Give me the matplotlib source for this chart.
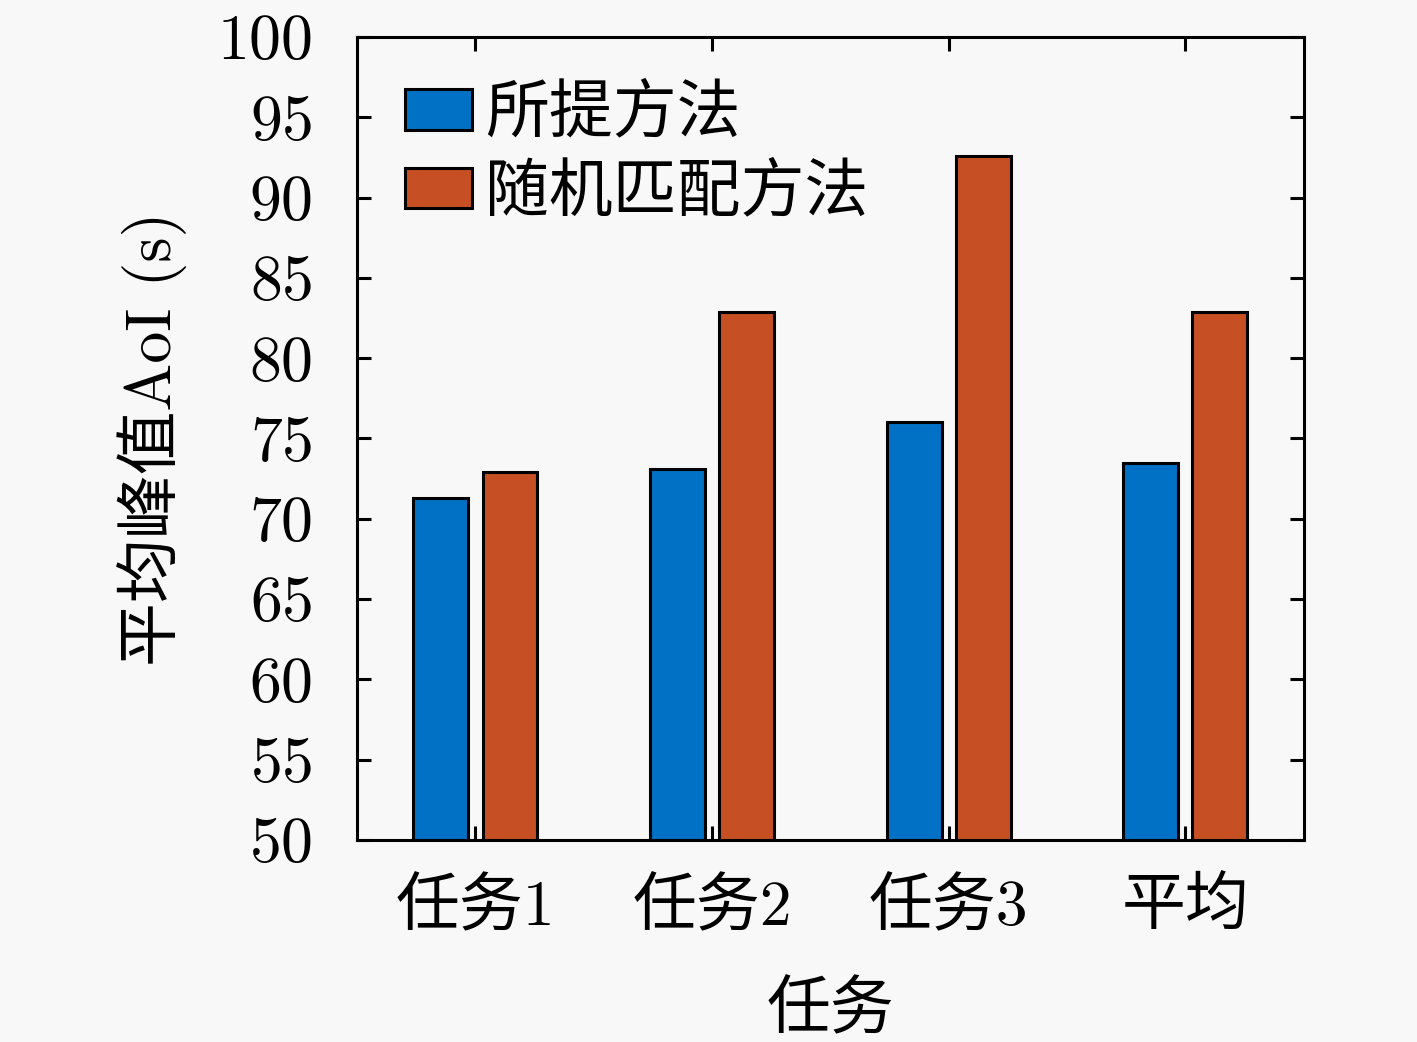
import numpy as np
import matplotlib
matplotlib.use('Agg')
import matplotlib.pyplot as plt

# Datos
tareas     = ['任务1', '任务2', '任务3', '平均']
propuesto  = [71.3, 73.1, 76.0, 73.5]
aleatorio  = [72.9, 82.9, 92.6, 82.9]
series     = ['所提方法', '随机匹配方法']
yticks     = [50, 55, 60, 65, 70, 75, 80, 85, 90, 95, 100]

FUENTE = ['cmr10', 'Noto Sans CJK SC']
plt.rcParams['font.family'] = FUENTE
plt.rcParams['axes.formatter.use_mathtext'] = True
FS = 46
FONDO = '#f8f8f8'

fig = plt.figure(figsize=(14.17, 10.42), dpi=100, facecolor=FONDO)
ax = fig.add_axes((0.252, 0.194, 0.668, 0.7705), facecolor=FONDO)

x = np.arange(1, len(tareas)+1)
w = 0.232
d = 0.146
ax.bar(x-d, propuesto, w, color='#0071c5', edgecolor='k', linewidth=2.2, label=series[0])
ax.bar(x+d, aleatorio, w, color='#c65023', edgecolor='k', linewidth=2.2, label=series[1])

ax.set_xlim(0.5, 4.5)
ax.set_ylim(50, 100)
ax.set_yticks(yticks)
ax.set_xticks(x)
ax.set_xticklabels(tareas)
ax.tick_params(direction='in', length=10, width=2.2, labelsize=FS, top=True, right=True)
ax.tick_params(axis='y', pad=32)
ax.tick_params(axis='x', pad=28)
for s in ax.spines.values():
	s.set_linewidth(2.2)

ax.set_xlabel('任务', fontsize=FS, labelpad=31)
ax.set_ylabel('平均峰值AoI (s)', fontsize=FS, labelpad=22)

leg = ax.legend(loc='upper left', frameon=False, fontsize=FS, handlelength=1.05, handleheight=0.6,
	handletextpad=0.2, labelspacing=0.3, borderaxespad=0.0, bbox_to_anchor=(0.024, 0.972))

fig.savefig('out.png', dpi=100, facecolor=FONDO)
